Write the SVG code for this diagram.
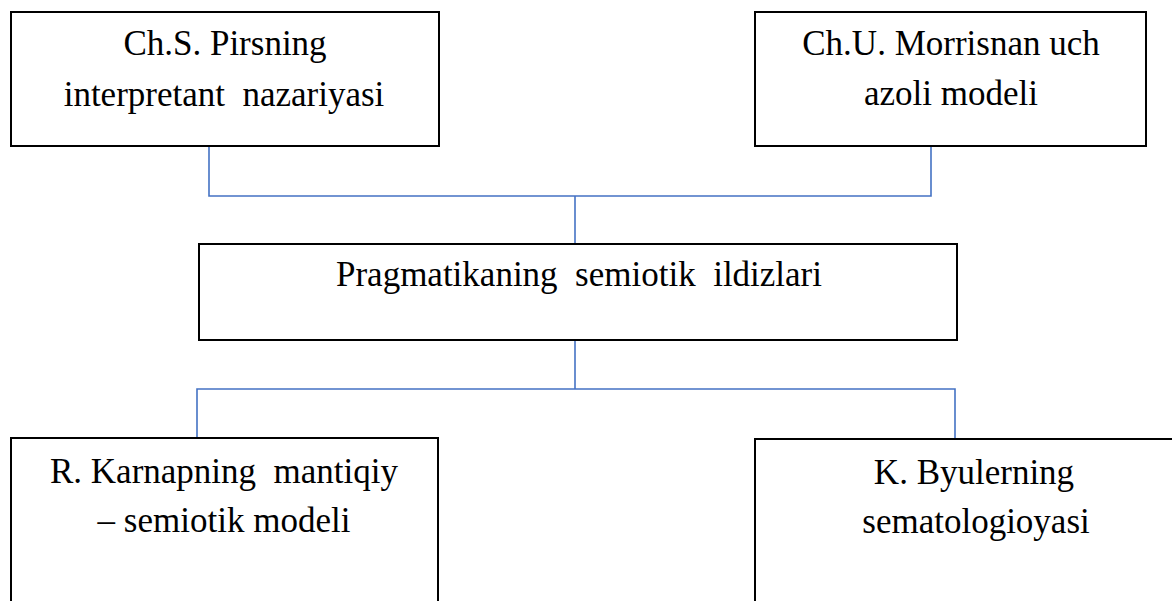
<svg xmlns="http://www.w3.org/2000/svg" width="1172" height="601" viewBox="0 0 1172 601">
<style>
.box{fill:#ffffff;stroke:#000000;stroke-width:2}
.lbl{font-family:"Liberation Serif","Times New Roman",serif;font-size:35px;fill:#000000;text-anchor:middle;white-space:pre}
.conn{fill:none;stroke:#4472C4;stroke-width:1.6}
</style>
<rect x="0" y="0" width="1172" height="601" fill="#ffffff"/>
<g id="connectors">
<polyline class="conn" points="209,146 209,196 931,196 931,146"/>
<line class="conn" x1="575" y1="196" x2="575" y2="244"/>
<line class="conn" x1="575" y1="340" x2="575" y2="389"/>
<polyline class="conn" points="197,438 197,389 955,389 955,439"/>
</g>
<g id="node-pirs">
<rect class="box" x="11" y="12" width="428" height="134"/>
<text class="lbl" x="225" y="55">Ch.S. Pirsning</text>
<text class="lbl" x="224" y="106" xml:space="preserve">interpretant  nazariyasi</text>
</g>
<g id="node-morris">
<rect class="box" x="755" y="12" width="391" height="134"/>
<text class="lbl" x="951" y="55">Ch.U. Morrisnan uch</text>
<text class="lbl" x="951" y="105">azoli modeli</text>
</g>
<g id="node-center">
<rect class="box" x="199" y="244" width="758" height="96"/>
<text class="lbl" x="579" y="286" xml:space="preserve">Pragmatikaning  semiotik  ildizlari</text>
</g>
<g id="node-karnap">
<rect class="box" x="11" y="438" width="427" height="200"/>
<text class="lbl" x="224" y="483" xml:space="preserve">R. Karnapning  mantiqiy</text>
<text class="lbl" x="224" y="532">– semiotik modeli</text>
</g>
<g id="node-byuler">
<rect class="box" x="755" y="439" width="450" height="200"/>
<text class="lbl" x="974" y="484">K. Byulerning</text>
<text class="lbl" x="976" y="533">sematologioyasi</text>
</g>
</svg>
